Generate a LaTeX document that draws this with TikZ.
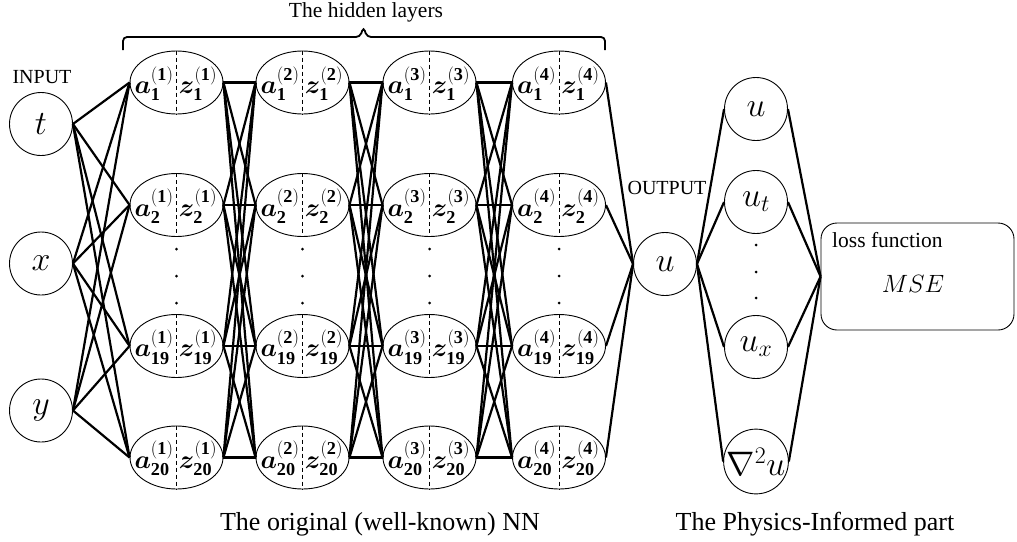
\RequirePackage{fix-cm}
\documentclass[tikz,border=0pt]{standalone}
\usepackage{amsmath}
\usepackage{bm}
\usepackage{fontspec}
\setmainfont{Liberation Serif}
\usetikzlibrary{shapes.geometric}
\tikzset{
 conn/.style={line width=2.2pt},
 neuron/.style={ellipse, draw, line width=0.9pt, minimum width=93pt, minimum height=63pt, inner sep=0pt},
 unit/.style={circle, draw, line width=0.9pt, minimum size=63pt, inner sep=0pt, font=\fontsize{34}{34}\selectfont},
 lab/.style={font=\fontsize{20}{20}\selectfont, inner sep=0pt},
 labm/.style={font=\fontsize{21.5}{21.5}\selectfont, inner sep=0pt},
 big/.style={font=\fontsize{26}{26}\selectfont, inner sep=0pt},
 hid/.style={font=\fontsize{26}{26}\selectfont, inner sep=0pt},
 vdot/.style={circle, fill, inner sep=0pt, minimum size=3pt},
 sep/.style={dashed, line width=1pt, dash pattern=on 4pt off 3pt},
}
\begin{document}
\begin{tikzpicture}[x=1pt,y=-1pt]
\useasboundingbox (0,0) rectangle (1017,541);
% inputs
\node[unit] (in-t) at (41,124) {$t$};
\node[unit] (in-x) at (41,263.5) {$x$};
\node[unit] (in-y) at (41,410.5) {$y$};
\node[lab, anchor=base] (inlab) at (42,83) {INPUT};
% hidden layers
\foreach \L/\X in {1/176.5,2/302.5,3/429.5,4/559}{
 \foreach \R/\Y/\S in {1/82.5/1,2/205/2,3/346/19,4/457.5/20}{
  \node[neuron] (h\L\R) at (\X,\Y) {};
  \draw[sep] (h\L\R.north) -- (h\L\R.south);
  \node[hid] (a\L\R) at ([xshift=-22.5pt,yshift=-1pt]h\L\R.center) {$\bm{a}^{(\mathbf{\L})}_{\mathbf{\S}}$};
  \node[hid] (z\L\R) at ([xshift=21.5pt,yshift=-1pt]h\L\R.center) {$\bm{z}^{(\mathbf{\L})}_{\mathbf{\S}}$};
 }
 \node[vdot] (d\L a) at (\X,249) {};
 \node[vdot] (d\L b) at (\X,276) {};
 \node[vdot] (d\L c) at (\X,303) {};
}
% output
\node[unit] (out) at (665,264) {$u$};
\node[lab, anchor=base] (outlab) at (667,194) {OUTPUT};
% physics part
\node[unit] (p1) at (756,109) {$u$};
\node[unit] (p2) at (756,202) {$u_t$};
\node[unit] (p3) at (756,347) {$u_x$};
\node[unit] (p4) at (756,461.5) {$\nabla^2u$};
\node[vdot] (pd1) at (756,245) {};
\node[vdot] (pd2) at (756,272) {};
\node[vdot] (pd3) at (756,298) {};
% loss box
\node[draw, rounded corners=16pt, line width=0.9pt, minimum width=193pt, minimum height=107pt, inner sep=0pt] (loss) at (917.5,276.5) {};
\node[labm, anchor=base west] (lf) at (832,247) {loss function};
\node[font=\fontsize{25}{25}\selectfont, inner sep=0pt] (mse) at (913,284) {$MSE$};
% connectors
\foreach \i in {in-t,in-x,in-y}{
 \foreach \R in {1,...,4}{ \draw[conn] (\i.east) -- (h1\R.west); }
}
\foreach \L/\N in {1/2,2/3,3/4}{
 \foreach \R in {1,...,4}{
  \foreach \S in {1,...,4}{ \draw[conn] (h\L\R.east) -- (h\N\S.west); }
 }
}
\foreach \R in {1,...,4}{ \draw[conn] (h4\R.east) -- (out.west); }
\foreach \k in {1,...,4}{
 \draw[conn] (out.east) -- (p\k.west);
 \draw[conn] (p\k.east) -- (loss.west);
}
% brace
\draw[line width=1.8pt, rounded corners=4pt] (123,50) -- (123,37) -- (360,37) -- (363.5,27) -- (367,37) -- (605,37) -- (605,50);
\node[labm, anchor=base] (hidlab) at (366,17) {The hidden layers};
% bottom labels
\node[big, anchor=base] (nnlab) at (380,530) {The original (well-known) NN};
\node[big, anchor=base] (pilab) at (815,530) {The Physics-Informed part};
\end{tikzpicture}
\end{document}
